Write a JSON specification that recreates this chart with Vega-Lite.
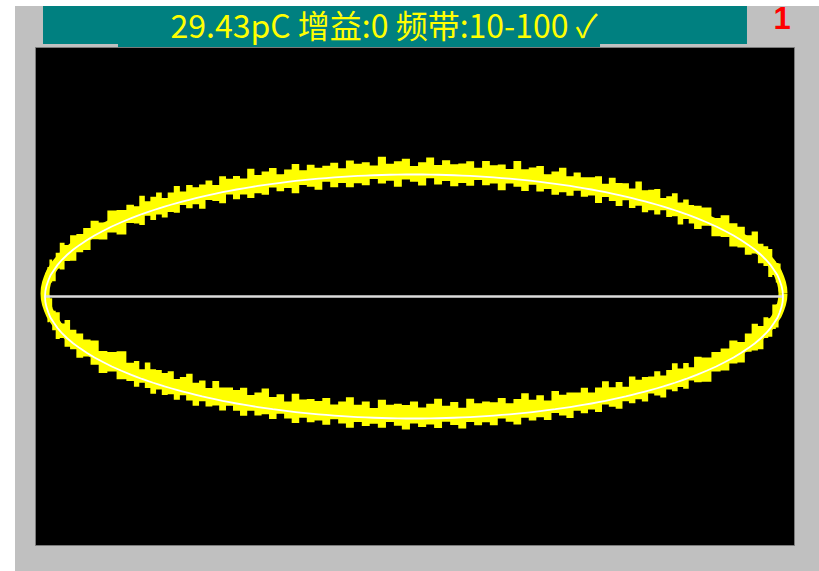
{
  "$schema": "https://vega.github.io/schema/vega-lite/v6.json",
  "width": 759,
  "height": 498,
  "autosize": {"type": "none"},
  "padding": {"left": 35, "top": 47, "right": 25, "bottom": 26},
  "background": "#c0c0c0",
  "config": {"view": {"fill": "#000000", "stroke": "#7a7a7a", "strokeWidth": 1}},
  "datasets": {
    "ell": [
      {"a":0,"x":1,"y":0,"lo":-0.05,"hi":0.09,"h":"t"},
      {"a":2.5,"x":0.999,"y":0.044,"lo":-0.036,"hi":0.164,"h":"t"},
      {"a":5,"x":0.996,"y":0.087,"lo":0.057,"hi":0.167,"h":"t"},
      {"a":7.5,"x":0.991,"y":0.131,"lo":0.041,"hi":0.271,"h":"t"},
      {"a":10,"x":0.985,"y":0.174,"lo":0.114,"hi":0.274,"h":"t"},
      {"a":12.5,"x":0.976,"y":0.216,"lo":0.176,"hi":0.286,"h":"t"},
      {"a":15,"x":0.966,"y":0.259,"lo":0.159,"hi":0.389,"h":"t"},
      {"a":17.5,"x":0.954,"y":0.301,"lo":0.251,"hi":0.411,"h":"t"},
      {"a":20,"x":0.94,"y":0.342,"lo":0.272,"hi":0.432,"h":"t"},
      {"a":22.5,"x":0.924,"y":0.383,"lo":0.353,"hi":0.533,"h":"t"},
      {"a":25,"x":0.906,"y":0.423,"lo":0.343,"hi":0.503,"h":"t"},
      {"a":27.5,"x":0.887,"y":0.462,"lo":0.402,"hi":0.572,"h":"t"},
      {"a":30,"x":0.866,"y":0.5,"lo":0.41,"hi":0.6,"h":"t"},
      {"a":32.5,"x":0.843,"y":0.537,"lo":0.487,"hi":0.667,"h":"t"},
      {"a":35,"x":0.819,"y":0.574,"lo":0.494,"hi":0.644,"h":"t"},
      {"a":37.5,"x":0.793,"y":0.609,"lo":0.579,"hi":0.729,"h":"t"},
      {"a":40,"x":0.766,"y":0.643,"lo":0.553,"hi":0.743,"h":"t"},
      {"a":41.25,"x":0.752,"y":0.659,"lo":0.599,"hi":0.749,"h":"t"},
      {"a":42.5,"x":0.737,"y":0.676,"lo":0.636,"hi":0.796,"h":"t"},
      {"a":43.75,"x":0.722,"y":0.691,"lo":0.591,"hi":0.771,"h":"t"},
      {"a":45,"x":0.707,"y":0.707,"lo":0.657,"hi":0.847,"h":"t"},
      {"a":46.25,"x":0.691,"y":0.722,"lo":0.652,"hi":0.822,"h":"t"},
      {"a":47.5,"x":0.676,"y":0.737,"lo":0.707,"hi":0.807,"h":"t"},
      {"a":48.75,"x":0.659,"y":0.752,"lo":0.672,"hi":0.882,"h":"t"},
      {"a":50,"x":0.643,"y":0.766,"lo":0.706,"hi":0.876,"h":"t"},
      {"a":51.25,"x":0.626,"y":0.78,"lo":0.69,"hi":0.87,"h":"t"},
      {"a":52.5,"x":0.609,"y":0.793,"lo":0.743,"hi":0.943,"h":"t"},
      {"a":53.75,"x":0.591,"y":0.806,"lo":0.726,"hi":0.886,"h":"t"},
      {"a":55,"x":0.574,"y":0.819,"lo":0.789,"hi":0.929,"h":"t"},
      {"a":56.25,"x":0.556,"y":0.831,"lo":0.741,"hi":0.931,"h":"t"},
      {"a":57.5,"x":0.537,"y":0.843,"lo":0.783,"hi":0.973,"h":"t"},
      {"a":58.75,"x":0.519,"y":0.855,"lo":0.815,"hi":0.925,"h":"t"},
      {"a":60,"x":0.5,"y":0.866,"lo":0.766,"hi":0.986,"h":"t"},
      {"a":61.25,"x":0.481,"y":0.877,"lo":0.827,"hi":0.977,"h":"t"},
      {"a":62.5,"x":0.462,"y":0.887,"lo":0.817,"hi":0.977,"h":"t"},
      {"a":63.75,"x":0.442,"y":0.897,"lo":0.867,"hi":1.017,"h":"t"},
      {"a":65,"x":0.423,"y":0.906,"lo":0.826,"hi":0.986,"h":"t"},
      {"a":66.25,"x":0.403,"y":0.915,"lo":0.855,"hi":1.055,"h":"t"},
      {"a":67.5,"x":0.383,"y":0.924,"lo":0.834,"hi":1.024,"h":"t"},
      {"a":68.75,"x":0.362,"y":0.932,"lo":0.882,"hi":1.002,"h":"t"},
      {"a":70,"x":0.342,"y":0.94,"lo":0.86,"hi":1.07,"h":"t"},
      {"a":71.25,"x":0.321,"y":0.947,"lo":0.917,"hi":1.057,"h":"t"},
      {"a":72.5,"x":0.301,"y":0.954,"lo":0.864,"hi":1.044,"h":"t"},
      {"a":73.75,"x":0.28,"y":0.96,"lo":0.9,"hi":1.11,"h":"t"},
      {"a":75,"x":0.259,"y":0.966,"lo":0.926,"hi":1.046,"h":"t"},
      {"a":76.25,"x":0.238,"y":0.971,"lo":0.871,"hi":1.081,"h":"t"},
      {"a":77.5,"x":0.216,"y":0.976,"lo":0.926,"hi":1.076,"h":"t"},
      {"a":78.75,"x":0.195,"y":0.981,"lo":0.911,"hi":1.111,"h":"t"},
      {"a":80,"x":0.174,"y":0.985,"lo":0.955,"hi":1.055,"h":"t"},
      {"a":81.25,"x":0.152,"y":0.988,"lo":0.908,"hi":1.108,"h":"t"},
      {"a":82.5,"x":0.131,"y":0.991,"lo":0.931,"hi":1.091,"h":"t"},
      {"a":83.75,"x":0.109,"y":0.994,"lo":0.904,"hi":1.084,"h":"t"},
      {"a":85,"x":0.087,"y":0.996,"lo":0.946,"hi":1.116,"h":"t"},
      {"a":86.25,"x":0.065,"y":0.998,"lo":0.918,"hi":1.078,"h":"t"},
      {"a":87.5,"x":0.044,"y":0.999,"lo":0.969,"hi":1.139,"h":"t"},
      {"a":88.75,"x":0.022,"y":1,"lo":0.91,"hi":1.1,"h":"t"},
      {"a":90,"x":0,"y":1,"lo":0.94,"hi":1.07,"h":"t"},
      {"a":91.25,"x":-0.022,"y":1,"lo":0.96,"hi":1.13,"h":"t"},
      {"a":92.5,"x":-0.044,"y":0.999,"lo":0.899,"hi":1.109,"h":"t"},
      {"a":93.75,"x":-0.065,"y":0.998,"lo":0.948,"hi":1.088,"h":"t"},
      {"a":95,"x":-0.087,"y":0.996,"lo":0.926,"hi":1.146,"h":"t"},
      {"a":96.25,"x":-0.109,"y":0.994,"lo":0.964,"hi":1.074,"h":"t"},
      {"a":97.5,"x":-0.131,"y":0.991,"lo":0.911,"hi":1.101,"h":"t"},
      {"a":98.75,"x":-0.152,"y":0.988,"lo":0.928,"hi":1.088,"h":"t"},
      {"a":100,"x":-0.174,"y":0.985,"lo":0.895,"hi":1.115,"h":"t"},
      {"a":101.25,"x":-0.195,"y":0.981,"lo":0.931,"hi":1.051,"h":"t"},
      {"a":102.5,"x":-0.216,"y":0.976,"lo":0.896,"hi":1.096,"h":"t"},
      {"a":103.75,"x":-0.238,"y":0.971,"lo":0.941,"hi":1.071,"h":"t"},
      {"a":105,"x":-0.259,"y":0.966,"lo":0.876,"hi":1.056,"h":"t"},
      {"a":106.25,"x":-0.28,"y":0.96,"lo":0.9,"hi":1.08,"h":"t"},
      {"a":107.5,"x":-0.301,"y":0.954,"lo":0.914,"hi":1.034,"h":"t"},
      {"a":108.75,"x":-0.321,"y":0.947,"lo":0.847,"hi":1.087,"h":"t"},
      {"a":110,"x":-0.342,"y":0.94,"lo":0.89,"hi":1.04,"h":"t"},
      {"a":111.25,"x":-0.362,"y":0.932,"lo":0.862,"hi":1.002,"h":"t"},
      {"a":112.5,"x":-0.383,"y":0.924,"lo":0.894,"hi":1.054,"h":"t"},
      {"a":113.75,"x":-0.403,"y":0.915,"lo":0.835,"hi":1.025,"h":"t"},
      {"a":115,"x":-0.423,"y":0.906,"lo":0.846,"hi":0.996,"h":"t"},
      {"a":116.25,"x":-0.442,"y":0.897,"lo":0.807,"hi":1.047,"h":"t"},
      {"a":117.5,"x":-0.462,"y":0.887,"lo":0.837,"hi":0.967,"h":"t"},
      {"a":118.75,"x":-0.481,"y":0.877,"lo":0.797,"hi":0.987,"h":"t"},
      {"a":120,"x":-0.5,"y":0.866,"lo":0.836,"hi":0.966,"h":"t"},
      {"a":121.25,"x":-0.519,"y":0.855,"lo":0.765,"hi":0.985,"h":"t"},
      {"a":122.5,"x":-0.537,"y":0.843,"lo":0.783,"hi":0.913,"h":"t"},
      {"a":123.75,"x":-0.556,"y":0.831,"lo":0.791,"hi":0.951,"h":"t"},
      {"a":125,"x":-0.574,"y":0.819,"lo":0.719,"hi":0.919,"h":"t"},
      {"a":126.25,"x":-0.591,"y":0.806,"lo":0.756,"hi":0.896,"h":"t"},
      {"a":127.5,"x":-0.609,"y":0.793,"lo":0.723,"hi":0.913,"h":"t"},
      {"a":128.75,"x":-0.626,"y":0.78,"lo":0.75,"hi":0.86,"h":"t"},
      {"a":130,"x":-0.643,"y":0.766,"lo":0.686,"hi":0.906,"h":"t"},
      {"a":131.25,"x":-0.659,"y":0.752,"lo":0.692,"hi":0.852,"h":"t"},
      {"a":132.5,"x":-0.676,"y":0.737,"lo":0.647,"hi":0.807,"h":"t"},
      {"a":133.75,"x":-0.691,"y":0.722,"lo":0.672,"hi":0.852,"h":"t"},
      {"a":135,"x":-0.707,"y":0.707,"lo":0.627,"hi":0.817,"h":"t"},
      {"a":136.25,"x":-0.722,"y":0.691,"lo":0.661,"hi":0.781,"h":"t"},
      {"a":137.5,"x":-0.737,"y":0.676,"lo":0.586,"hi":0.826,"h":"t"},
      {"a":138.75,"x":-0.752,"y":0.659,"lo":0.599,"hi":0.739,"h":"t"},
      {"a":140,"x":-0.766,"y":0.643,"lo":0.603,"hi":0.753,"h":"t"},
      {"a":142.5,"x":-0.793,"y":0.609,"lo":0.509,"hi":0.709,"h":"t"},
      {"a":145,"x":-0.819,"y":0.574,"lo":0.524,"hi":0.704,"h":"t"},
      {"a":147.5,"x":-0.843,"y":0.537,"lo":0.467,"hi":0.607,"h":"t"},
      {"a":150,"x":-0.866,"y":0.5,"lo":0.47,"hi":0.62,"h":"t"},
      {"a":152.5,"x":-0.887,"y":0.462,"lo":0.382,"hi":0.562,"h":"t"},
      {"a":155,"x":-0.906,"y":0.423,"lo":0.363,"hi":0.513,"h":"t"},
      {"a":157.5,"x":-0.924,"y":0.383,"lo":0.293,"hi":0.503,"h":"t"},
      {"a":160,"x":-0.94,"y":0.342,"lo":0.292,"hi":0.422,"h":"t"},
      {"a":162.5,"x":-0.954,"y":0.301,"lo":0.221,"hi":0.441,"h":"t"},
      {"a":165,"x":-0.966,"y":0.259,"lo":0.229,"hi":0.359,"h":"t"},
      {"a":167.5,"x":-0.976,"y":0.216,"lo":0.126,"hi":0.286,"h":"t"},
      {"a":170,"x":-0.985,"y":0.174,"lo":0.114,"hi":0.304,"h":"t"},
      {"a":172.5,"x":-0.991,"y":0.131,"lo":0.091,"hi":0.241,"h":"t"},
      {"a":175,"x":-0.996,"y":0.087,"lo":-0.013,"hi":0.177,"h":"t"},
      {"a":177.5,"x":-0.999,"y":0.044,"lo":-0.006,"hi":0.194,"h":"t"},
      {"a":180,"x":-1,"y":0,"lo":-0.07,"hi":0.08,"h":"t"},
      {"a":180,"x":-1,"y":0,"lo":-0.04,"hi":0.11,"h":"b"},
      {"a":182.5,"x":-0.999,"y":-0.044,"lo":-0.114,"hi":0.096,"h":"b"},
      {"a":185,"x":-0.996,"y":-0.087,"lo":-0.137,"hi":0.003,"h":"b"},
      {"a":187.5,"x":-0.991,"y":-0.131,"lo":-0.211,"hi":-0.011,"h":"b"},
      {"a":190,"x":-0.985,"y":-0.174,"lo":-0.204,"hi":-0.014,"h":"b"},
      {"a":192.5,"x":-0.976,"y":-0.216,"lo":-0.276,"hi":-0.116,"h":"b"},
      {"a":195,"x":-0.966,"y":-0.259,"lo":-0.349,"hi":-0.129,"h":"b"},
      {"a":197.5,"x":-0.954,"y":-0.301,"lo":-0.341,"hi":-0.221,"h":"b"},
      {"a":200,"x":-0.94,"y":-0.342,"lo":-0.412,"hi":-0.192,"h":"b"},
      {"a":202.5,"x":-0.924,"y":-0.383,"lo":-0.433,"hi":-0.273,"h":"b"},
      {"a":205,"x":-0.906,"y":-0.423,"lo":-0.503,"hi":-0.303,"h":"b"},
      {"a":207.5,"x":-0.887,"y":-0.462,"lo":-0.492,"hi":-0.352,"h":"b"},
      {"a":210,"x":-0.866,"y":-0.5,"lo":-0.56,"hi":-0.36,"h":"b"},
      {"a":212.5,"x":-0.843,"y":-0.537,"lo":-0.627,"hi":-0.447,"h":"b"},
      {"a":215,"x":-0.819,"y":-0.574,"lo":-0.614,"hi":-0.454,"h":"b"},
      {"a":217.5,"x":-0.793,"y":-0.609,"lo":-0.679,"hi":-0.449,"h":"b"},
      {"a":220,"x":-0.766,"y":-0.643,"lo":-0.693,"hi":-0.543,"h":"b"},
      {"a":221.25,"x":-0.752,"y":-0.659,"lo":-0.739,"hi":-0.529,"h":"b"},
      {"a":222.5,"x":-0.737,"y":-0.676,"lo":-0.706,"hi":-0.596,"h":"b"},
      {"a":223.75,"x":-0.722,"y":-0.691,"lo":-0.751,"hi":-0.541,"h":"b"},
      {"a":225,"x":-0.707,"y":-0.707,"lo":-0.797,"hi":-0.597,"h":"b"},
      {"a":226.25,"x":-0.691,"y":-0.722,"lo":-0.762,"hi":-0.602,"h":"b"},
      {"a":227.5,"x":-0.676,"y":-0.737,"lo":-0.807,"hi":-0.627,"h":"b"},
      {"a":228.75,"x":-0.659,"y":-0.752,"lo":-0.802,"hi":-0.612,"h":"b"},
      {"a":230,"x":-0.643,"y":-0.766,"lo":-0.846,"hi":-0.676,"h":"b"},
      {"a":231.25,"x":-0.626,"y":-0.78,"lo":-0.81,"hi":-0.66,"h":"b"},
      {"a":232.5,"x":-0.609,"y":-0.793,"lo":-0.853,"hi":-0.633,"h":"b"},
      {"a":233.75,"x":-0.591,"y":-0.806,"lo":-0.896,"hi":-0.706,"h":"b"},
      {"a":235,"x":-0.574,"y":-0.819,"lo":-0.859,"hi":-0.689,"h":"b"},
      {"a":236.25,"x":-0.556,"y":-0.831,"lo":-0.901,"hi":-0.751,"h":"b"},
      {"a":237.5,"x":-0.537,"y":-0.843,"lo":-0.893,"hi":-0.693,"h":"b"},
      {"a":238.75,"x":-0.519,"y":-0.855,"lo":-0.935,"hi":-0.745,"h":"b"},
      {"a":240,"x":-0.5,"y":-0.866,"lo":-0.896,"hi":-0.746,"h":"b"},
      {"a":241.25,"x":-0.481,"y":-0.877,"lo":-0.937,"hi":-0.767,"h":"b"},
      {"a":242.5,"x":-0.462,"y":-0.887,"lo":-0.977,"hi":-0.747,"h":"b"},
      {"a":243.75,"x":-0.442,"y":-0.897,"lo":-0.937,"hi":-0.807,"h":"b"},
      {"a":245,"x":-0.423,"y":-0.906,"lo":-0.976,"hi":-0.786,"h":"b"},
      {"a":246.25,"x":-0.403,"y":-0.915,"lo":-0.965,"hi":-0.755,"h":"b"},
      {"a":247.5,"x":-0.383,"y":-0.924,"lo":-1.004,"hi":-0.824,"h":"b"},
      {"a":248.75,"x":-0.362,"y":-0.932,"lo":-0.962,"hi":-0.802,"h":"b"},
      {"a":250,"x":-0.342,"y":-0.94,"lo":-1.0,"hi":-0.86,"h":"b"},
      {"a":251.25,"x":-0.321,"y":-0.947,"lo":-1.037,"hi":-0.797,"h":"b"},
      {"a":252.5,"x":-0.301,"y":-0.954,"lo":-0.994,"hi":-0.844,"h":"b"},
      {"a":253.75,"x":-0.28,"y":-0.96,"lo":-1.03,"hi":-0.84,"h":"b"},
      {"a":255,"x":-0.259,"y":-0.966,"lo":-1.016,"hi":-0.856,"h":"b"},
      {"a":256.25,"x":-0.238,"y":-0.971,"lo":-1.051,"hi":-0.831,"h":"b"},
      {"a":257.5,"x":-0.216,"y":-0.976,"lo":-1.006,"hi":-0.886,"h":"b"},
      {"a":258.75,"x":-0.195,"y":-0.981,"lo":-1.041,"hi":-0.861,"h":"b"},
      {"a":260,"x":-0.174,"y":-0.985,"lo":-1.075,"hi":-0.825,"h":"b"},
      {"a":261.25,"x":-0.152,"y":-0.988,"lo":-1.028,"hi":-0.888,"h":"b"},
      {"a":262.5,"x":-0.131,"y":-0.991,"lo":-1.061,"hi":-0.861,"h":"b"},
      {"a":263.75,"x":-0.109,"y":-0.994,"lo":-1.044,"hi":-0.914,"h":"b"},
      {"a":265,"x":-0.087,"y":-0.996,"lo":-1.076,"hi":-0.846,"h":"b"},
      {"a":266.25,"x":-0.065,"y":-0.998,"lo":-1.028,"hi":-0.888,"h":"b"},
      {"a":267.5,"x":-0.044,"y":-0.999,"lo":-1.059,"hi":-0.879,"h":"b"},
      {"a":268.75,"x":-0.022,"y":-1,"lo":-1.09,"hi":-0.89,"h":"b"},
      {"a":270,"x":0,"y":-1,"lo":-1.04,"hi":-0.86,"h":"b"},
      {"a":271.25,"x":0.022,"y":-1,"lo":-1.07,"hi":-0.91,"h":"b"},
      {"a":272.5,"x":0.044,"y":-0.999,"lo":-1.049,"hi":-0.879,"h":"b"},
      {"a":273.75,"x":0.065,"y":-0.998,"lo":-1.078,"hi":-0.838,"h":"b"},
      {"a":275,"x":0.087,"y":-0.996,"lo":-1.026,"hi":-0.896,"h":"b"},
      {"a":276.25,"x":0.109,"y":-0.994,"lo":-1.054,"hi":-0.864,"h":"b"},
      {"a":277.5,"x":0.131,"y":-0.991,"lo":-1.081,"hi":-0.911,"h":"b"},
      {"a":278.75,"x":0.152,"y":-0.988,"lo":-1.028,"hi":-0.838,"h":"b"},
      {"a":280,"x":0.174,"y":-0.985,"lo":-1.055,"hi":-0.875,"h":"b"},
      {"a":281.25,"x":0.195,"y":-0.981,"lo":-1.031,"hi":-0.861,"h":"b"},
      {"a":282.5,"x":0.216,"y":-0.976,"lo":-1.056,"hi":-0.866,"h":"b"},
      {"a":283.75,"x":0.238,"y":-0.971,"lo":-1.001,"hi":-0.831,"h":"b"},
      {"a":285,"x":0.259,"y":-0.966,"lo":-1.026,"hi":-0.876,"h":"b"},
      {"a":286.25,"x":0.28,"y":-0.96,"lo":-1.05,"hi":-0.84,"h":"b"},
      {"a":287.5,"x":0.301,"y":-0.954,"lo":-0.994,"hi":-0.794,"h":"b"},
      {"a":288.75,"x":0.321,"y":-0.947,"lo":-1.017,"hi":-0.847,"h":"b"},
      {"a":290,"x":0.342,"y":-0.94,"lo":-0.99,"hi":-0.81,"h":"b"},
      {"a":291.25,"x":0.362,"y":-0.932,"lo":-1.012,"hi":-0.852,"h":"b"},
      {"a":292.5,"x":0.383,"y":-0.924,"lo":-0.954,"hi":-0.774,"h":"b"},
      {"a":293.75,"x":0.403,"y":-0.915,"lo":-0.975,"hi":-0.805,"h":"b"},
      {"a":295,"x":0.423,"y":-0.906,"lo":-0.996,"hi":-0.786,"h":"b"},
      {"a":296.25,"x":0.442,"y":-0.897,"lo":-0.937,"hi":-0.787,"h":"b"},
      {"a":297.5,"x":0.462,"y":-0.887,"lo":-0.957,"hi":-0.747,"h":"b"},
      {"a":298.75,"x":0.481,"y":-0.877,"lo":-0.927,"hi":-0.787,"h":"b"},
      {"a":300,"x":0.5,"y":-0.866,"lo":-0.946,"hi":-0.746,"h":"b"},
      {"a":301.25,"x":0.519,"y":-0.855,"lo":-0.885,"hi":-0.695,"h":"b"},
      {"a":302.5,"x":0.537,"y":-0.843,"lo":-0.903,"hi":-0.743,"h":"b"},
      {"a":303.75,"x":0.556,"y":-0.831,"lo":-0.921,"hi":-0.701,"h":"b"},
      {"a":305,"x":0.574,"y":-0.819,"lo":-0.859,"hi":-0.739,"h":"b"},
      {"a":306.25,"x":0.591,"y":-0.806,"lo":-0.876,"hi":-0.656,"h":"b"},
      {"a":307.5,"x":0.609,"y":-0.793,"lo":-0.843,"hi":-0.683,"h":"b"},
      {"a":308.75,"x":0.626,"y":-0.78,"lo":-0.86,"hi":-0.66,"h":"b"},
      {"a":310,"x":0.643,"y":-0.766,"lo":-0.796,"hi":-0.656,"h":"b"},
      {"a":311.25,"x":0.659,"y":-0.752,"lo":-0.812,"hi":-0.612,"h":"b"},
      {"a":312.5,"x":0.676,"y":-0.737,"lo":-0.827,"hi":-0.647,"h":"b"},
      {"a":313.75,"x":0.691,"y":-0.722,"lo":-0.762,"hi":-0.602,"h":"b"},
      {"a":315,"x":0.707,"y":-0.707,"lo":-0.777,"hi":-0.547,"h":"b"},
      {"a":316.25,"x":0.722,"y":-0.691,"lo":-0.741,"hi":-0.591,"h":"b"},
      {"a":317.5,"x":0.737,"y":-0.676,"lo":-0.756,"hi":-0.546,"h":"b"},
      {"a":318.75,"x":0.752,"y":-0.659,"lo":-0.689,"hi":-0.579,"h":"b"},
      {"a":320,"x":0.766,"y":-0.643,"lo":-0.703,"hi":-0.493,"h":"b"},
      {"a":322.5,"x":0.793,"y":-0.609,"lo":-0.699,"hi":-0.499,"h":"b"},
      {"a":325,"x":0.819,"y":-0.574,"lo":-0.614,"hi":-0.454,"h":"b"},
      {"a":327.5,"x":0.843,"y":-0.537,"lo":-0.607,"hi":-0.427,"h":"b"},
      {"a":330,"x":0.866,"y":-0.5,"lo":-0.55,"hi":-0.36,"h":"b"},
      {"a":332.5,"x":0.887,"y":-0.462,"lo":-0.542,"hi":-0.372,"h":"b"},
      {"a":335,"x":0.906,"y":-0.423,"lo":-0.453,"hi":-0.303,"h":"b"},
      {"a":337.5,"x":0.924,"y":-0.383,"lo":-0.443,"hi":-0.223,"h":"b"},
      {"a":340,"x":0.94,"y":-0.342,"lo":-0.432,"hi":-0.242,"h":"b"},
      {"a":342.5,"x":0.954,"y":-0.301,"lo":-0.341,"hi":-0.171,"h":"b"},
      {"a":345,"x":0.966,"y":-0.259,"lo":-0.329,"hi":-0.179,"h":"b"},
      {"a":347.5,"x":0.976,"y":-0.216,"lo":-0.266,"hi":-0.066,"h":"b"},
      {"a":350,"x":0.985,"y":-0.174,"lo":-0.254,"hi":-0.064,"h":"b"},
      {"a":352.5,"x":0.991,"y":-0.131,"lo":-0.161,"hi":-0.011,"h":"b"},
      {"a":355,"x":0.996,"y":-0.087,"lo":-0.147,"hi":0.023,"h":"b"},
      {"a":357.5,"x":0.999,"y":-0.044,"lo":-0.134,"hi":0.096,"h":"b"},
      {"a":360,"x":1,"y":0,"lo":-0.04,"hi":0.09,"h":"b"}
    ]
  },
  "layer": [
    {
      "data": {"values": [{}]},
      "mark": {"type": "rect", "color": "#008080"},
      "encoding": {
        "x": {"datum": -1.0054, "type": "quantitative", "scale": {"domain": [-1.0271, 1.0298], "nice": false, "zero": false}, "axis": null},
        "x2": {"datum": 0.9024},
        "y": {"datum": 2.3812, "type": "quantitative", "scale": {"domain": [-2.0369, 2.0451], "nice": false, "zero": false}, "axis": null},
        "y2": {"datum": 2.0697}
      }
    },
    {
      "data": {"values": [{}]},
      "mark": {"type": "rect", "color": "#008080"},
      "encoding": {
        "x": {"datum": -0.8022, "type": "quantitative", "scale": {"domain": [-1.0271, 1.0298], "nice": false, "zero": false}, "axis": null},
        "x2": {"datum": 0.5041},
        "y": {"datum": 2.0697, "type": "quantitative", "scale": {"domain": [-2.0369, 2.0451], "nice": false, "zero": false}, "axis": null},
        "y2": {"datum": 2.0451}
      }
    },
    {
      "data": {"name": "ell"},
      "mark": {"type": "line", "color": "#ffff00", "strokeWidth": 9, "yOffset": -3, "strokeJoin": "round"},
      "encoding": {
        "x": {"field": "x", "type": "quantitative", "scale": {"domain": [-1.0271, 1.0298], "nice": false, "zero": false}, "axis": null},
        "y": {"field": "y", "type": "quantitative", "scale": {"domain": [-2.0369, 2.0451], "nice": false, "zero": false}, "axis": null},
        "order": {"field": "a", "type": "quantitative"}
      }
    },
    {
      "data": {"name": "ell"},
      "mark": {"type": "area", "color": "#ffff00", "opacity": 1, "interpolate": "step"},
      "encoding": {
        "x": {"field": "x", "type": "quantitative", "scale": {"domain": [-1.0271, 1.0298], "nice": false, "zero": false}, "axis": null},
        "y": {"field": "hi", "type": "quantitative", "scale": {"domain": [-2.0369, 2.0451], "nice": false, "zero": false}, "axis": null},
        "y2": {"field": "lo"},
        "detail": {"field": "h", "type": "nominal"}
      }
    },
    {
      "data": {"values": [{}]},
      "mark": {"type": "rule", "color": "#dcdcdc", "strokeWidth": 2.5},
      "encoding": {
        "x": {"datum": -1.0, "type": "quantitative", "scale": {"domain": [-1.0271, 1.0298], "nice": false, "zero": false}, "axis": null},
        "x2": {"datum": 1.0},
        "y": {"datum": 0, "type": "quantitative", "scale": {"domain": [-2.0369, 2.0451], "nice": false, "zero": false}, "axis": null}
      }
    },
    {
      "data": {"name": "ell"},
      "mark": {"type": "line", "color": "#ffffff", "strokeWidth": 1.8},
      "encoding": {
        "x": {"field": "x", "type": "quantitative", "scale": {"domain": [-1.0271, 1.0298], "nice": false, "zero": false}, "axis": null},
        "y": {"field": "y", "type": "quantitative", "scale": {"domain": [-2.0369, 2.0451], "nice": false, "zero": false}, "axis": null},
        "order": {"field": "a", "type": "quantitative"}
      }
    },
    {
      "data": {"values": [{}]},
      "mark": {"type": "text", "text": "29.43pC 增益:0 频带:10-100 ✓", "color": "#ffff00", "font": "Noto Sans CJK SC", "fontSize": 32, "align": "center", "baseline": "alphabetic"},
      "encoding": {
        "x": {"datum": -0.0813, "type": "quantitative", "scale": {"domain": [-1.0271, 1.0298], "nice": false, "zero": false}, "axis": null},
        "y": {"datum": 2.1189, "type": "quantitative", "scale": {"domain": [-2.0369, 2.0451], "nice": false, "zero": false}, "axis": null}
      }
    },
    {
      "data": {"values": [{}]},
      "mark": {"type": "text", "text": "1", "color": "#ff0000", "font": "Liberation Sans", "fontWeight": "bold", "fontSize": 31, "align": "center", "baseline": "alphabetic"},
      "encoding": {
        "x": {"datum": 0.9973, "type": "quantitative", "scale": {"domain": [-1.0271, 1.0298], "nice": false, "zero": false}, "axis": null},
        "y": {"datum": 2.1926, "type": "quantitative", "scale": {"domain": [-2.0369, 2.0451], "nice": false, "zero": false}, "axis": null}
      }
    },
    {
      "data": {"values": [{}]},
      "mark": {"type": "rect", "color": "#ffffff"},
      "encoding": {
        "x": {"datum": -1.122, "type": "quantitative", "scale": {"domain": [-1.0271, 1.0298], "nice": false, "zero": false}, "axis": null},
        "x2": {"datum": -1.0813},
        "y": {"datum": 2.4303, "type": "quantitative", "scale": {"domain": [-2.0369, 2.0451], "nice": false, "zero": false}, "axis": null},
        "y2": {"datum": -2.25}
      }
    },
    {
      "data": {"values": [{}]},
      "mark": {"type": "rect", "color": "#ffffff"},
      "encoding": {
        "x": {"datum": -1.122, "type": "quantitative", "scale": {"domain": [-1.0271, 1.0298], "nice": false, "zero": false}, "axis": null},
        "x2": {"datum": 1.0976},
        "y": {"datum": 2.4303, "type": "quantitative", "scale": {"domain": [-2.0369, 2.0451], "nice": false, "zero": false}, "axis": null},
        "y2": {"datum": 2.3812}
      }
    }
  ]
}
